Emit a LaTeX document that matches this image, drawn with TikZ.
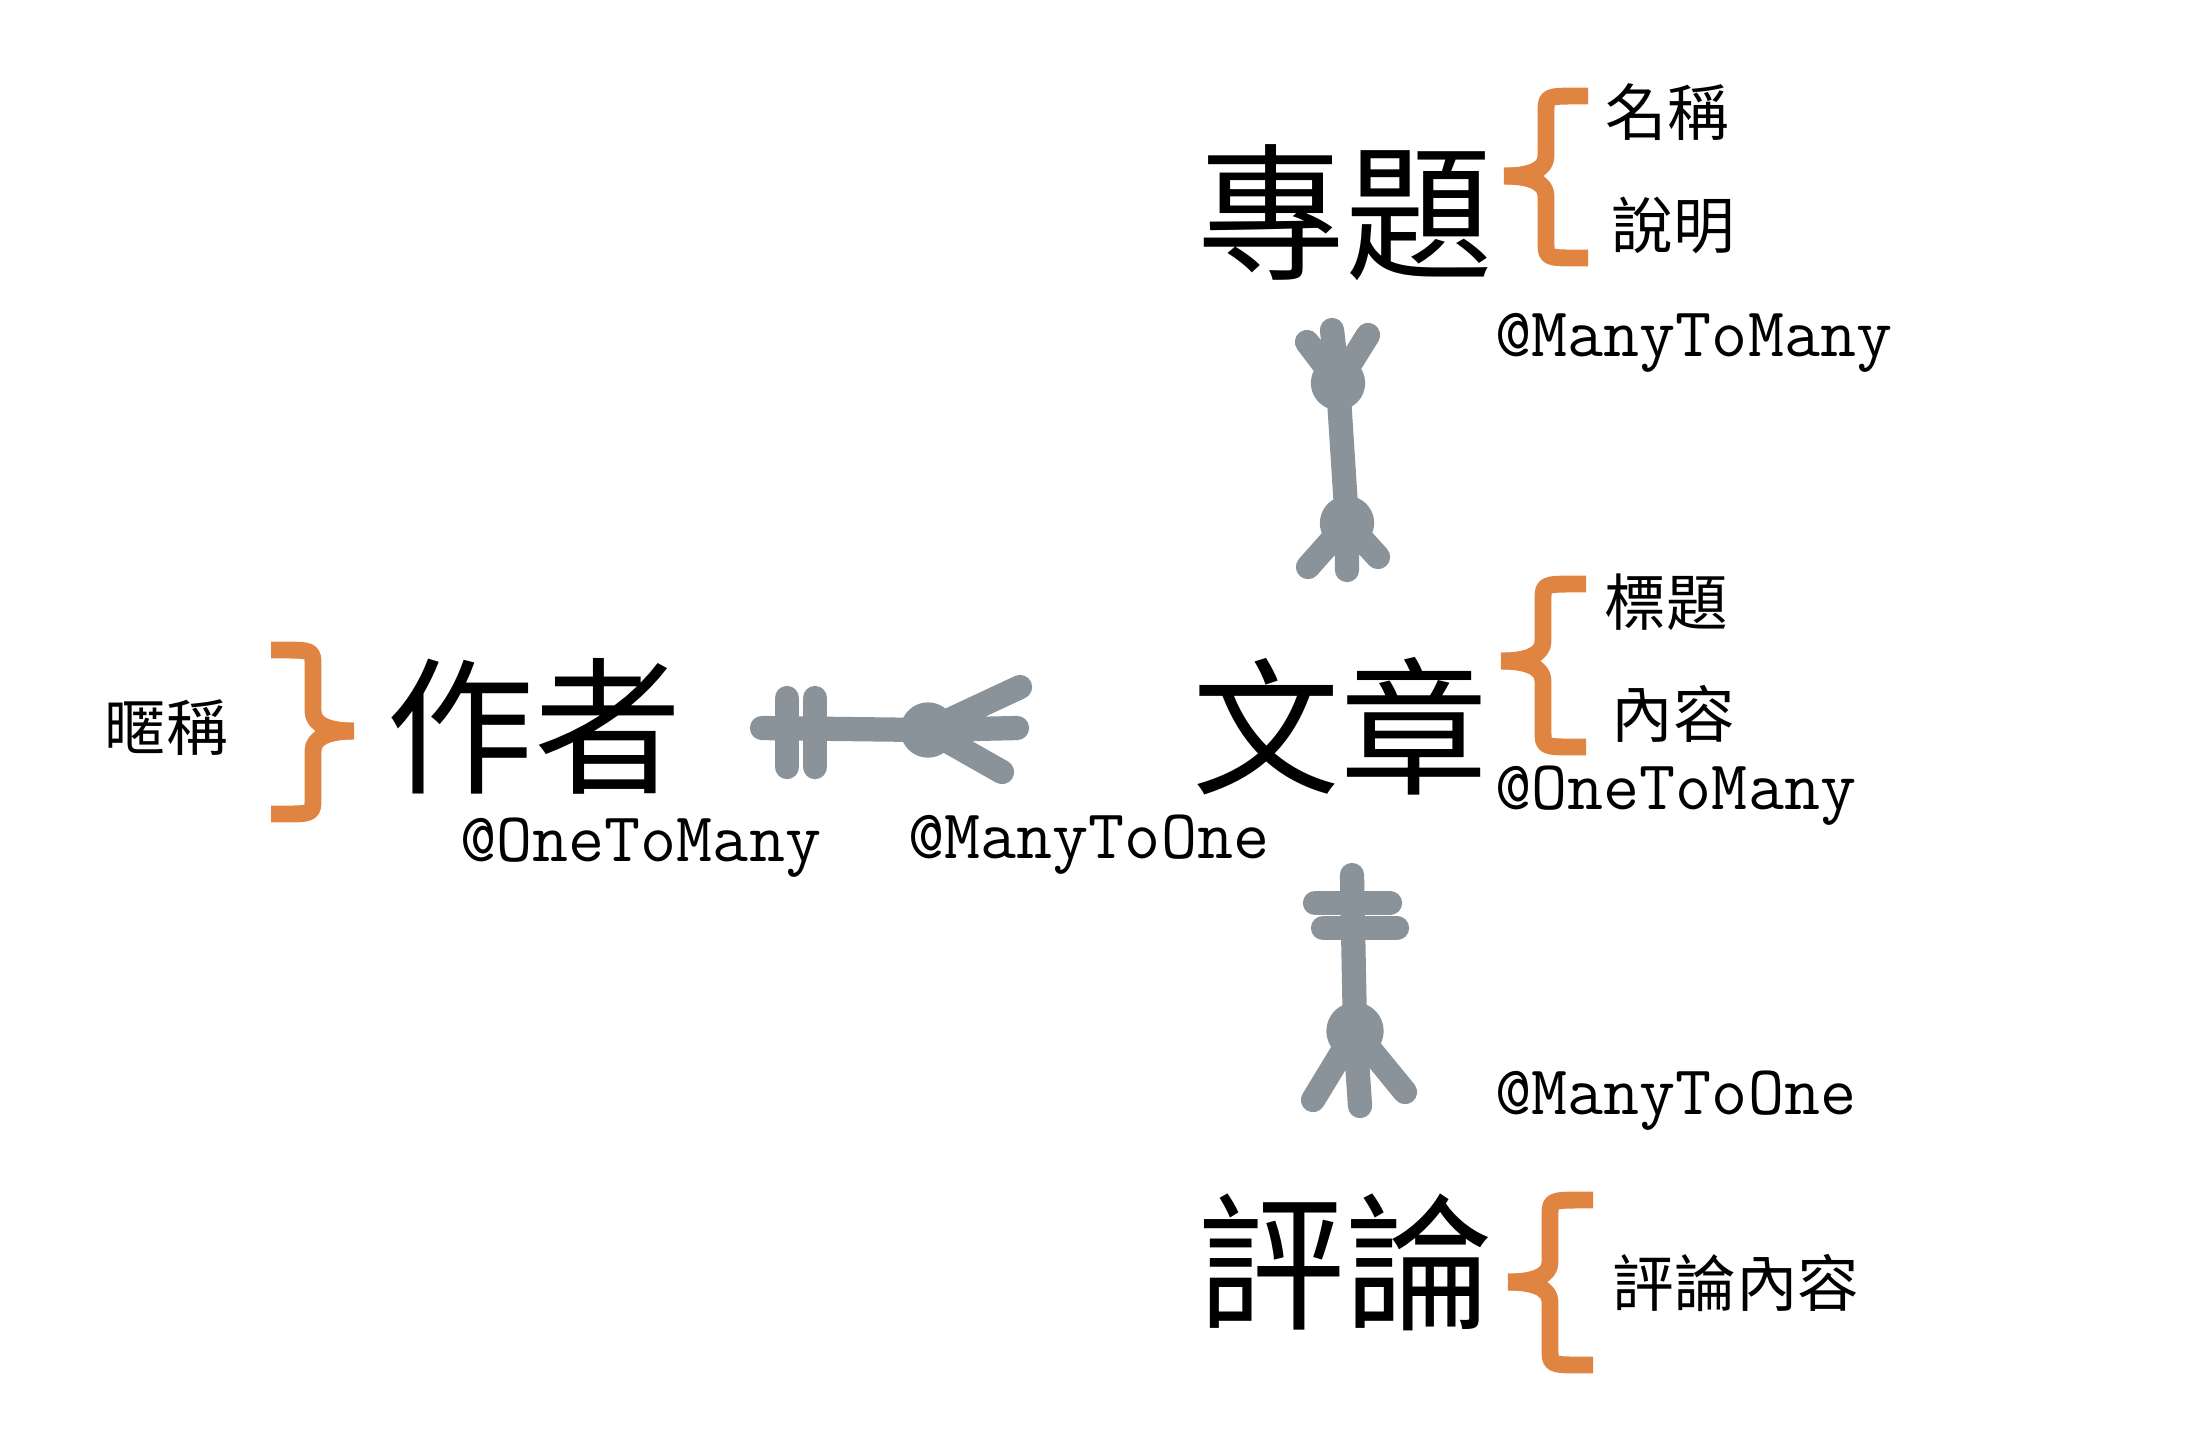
\documentclass[tikz,border=0pt]{standalone}
\usepackage{fontspec}
\newfontfamily\cjk{Noto Sans CJK TC}
\definecolor{conngray}{HTML}{8A9399}
\definecolor{braceorange}{HTML}{E08442}
\newcommand\ormbrace[6]{% xEnd xVert xTip yTop yMid yBot
  \draw[bracestroke] (#1,#4) -- ({#1+0.2*(#2-#1)},#4) .. controls (#2,#4) and (#2,#4) .. (#2,{#4+16})
     -- (#2,{#5-20}) .. controls (#2,{#5-6}) and ({#2+0.4*(#3-#2)},#5) .. (#3,#5);
  \draw[bracestroke] (#3,#5) .. controls ({#2+0.4*(#3-#2)},#5) and (#2,{#5+6}) .. (#2,{#5+20})
     -- (#2,{#6-16}) .. controls (#2,#6) and (#2,#6) .. ({#1+0.2*(#2-#1)},#6) -- (#1,#6);
}
\begin{document}
\begin{tikzpicture}[x=0.01cm,y=-0.01cm,
  big/.style={font=\cjk\fontsize{42}{42}\selectfont, inner sep=0pt},
  small/.style={font=\cjk\fontsize{17.5}{17.5}\selectfont, inner sep=0pt},
  rel/.style={font=\ttfamily\fontsize{19.9}{19.9}\selectfont, inner sep=0pt, anchor=west},
  conn/.style={draw=conngray, line width=6.9pt, line cap=round, line join=round},
  bracestroke/.style={draw=braceorange, line width=4.8pt, line cap=butt, line join=round}]
\useasboundingbox[fill=white] (0,0) rectangle (2204,1438);

% entities
\node[big] (zt) at (1345,213) {專題};
\node[big] (wz) at (1340,726) {文章};
\node[big] (zz) at (534,726) {作者};
\node[big] (pl) at (1345,1262) {評論};

% attributes
\node[small] (mc) at (1667,112) {名稱};
\node[small] (sm) at (1673,225) {說明};
\node[small] (bt) at (1666,602) {標題};
\node[small] (nr) at (1673,714) {內容};
\node[small] (nc) at (166,728) {暱稱};
\node[small] (plnr) at (1736,1283) {評論內容};

% relation labels
\node[rel] (r1) at (1495,343) {@ManyToMany};
\node[rel] (r2) at (1495,796) {@OneToMany};
\node[rel] (r3) at (460,848) {@OneToMany};
\node[rel] (r4) at (908,845) {@ManyToOne};
\node[rel] (r5) at (1495,1101) {@ManyToOne};

% braces
\ormbrace{1588}{1546}{1504}{96}{176}{258}
\ormbrace{1586}{1543}{1501}{584}{661}{747}
\ormbrace{1593}{1550}{1508}{1200}{1282}{1365}
\ormbrace{271}{313}{354}{650}{731}{814}

% connector 專題 -- 文章 (many to many)
\coordinate (ta) at (1338,383);
\coordinate (tb) at (1347,523);
\draw[conn] (ta) -- (tb);
\draw[conn] (ta) circle[radius=0.15cm];
\draw[conn] (tb) circle[radius=0.15cm];
\draw[conn] (ta) -- (1307,342) (ta) -- (1332,330) (ta) -- (1368,335);
\draw[conn] (tb) -- (1308,567) (tb) -- (1347,570) (tb) -- (1378,557);

% connector 作者 -- 文章 (one to many)
\coordinate (ha) at (762,728);
\coordinate (hb) at (928,730);
\draw[conn] (ha) -- (hb);
\draw[conn] (787,698) -- (787,767) (815,698) -- (815,767);
\draw[conn] (hb) circle[radius=0.155cm];
\draw[conn] (hb) -- (1020,687) (hb) -- (1017,728) (hb) -- (1002,772);

% connector 文章 -- 評論 (one to many)
\coordinate (va) at (1352,875);
\coordinate (vb) at (1355,1031);
\draw[conn] (va) -- (vb);
\draw[conn] (1315,903) -- (1390,903) (1323,928) -- (1397,928);
\draw[conn] (vb) circle[radius=0.165cm];
\draw[conn] (vb) -- (1313,1100) (vb) -- (1360,1106) (vb) -- (1405,1092);
\end{tikzpicture}
\end{document}
